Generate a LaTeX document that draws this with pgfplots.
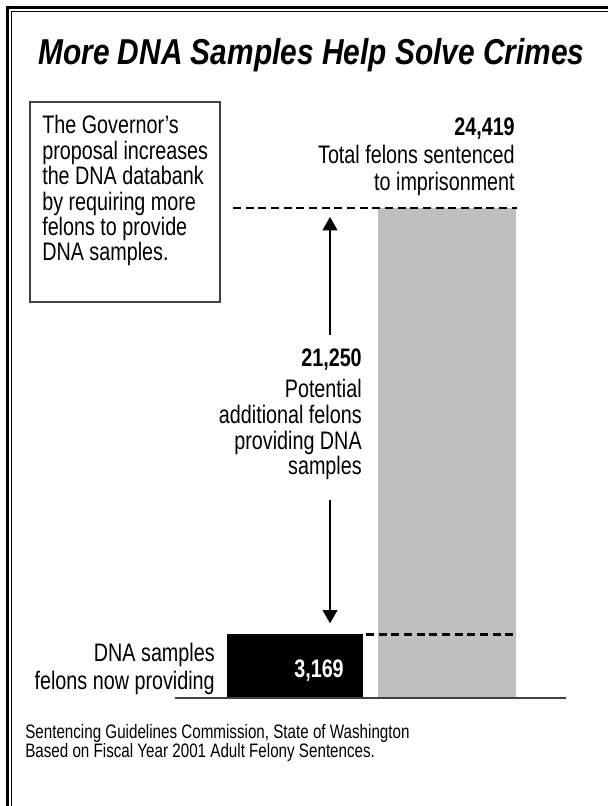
\documentclass[border=0pt]{standalone}
\usepackage{pgfplots}
\pgfplotsset{compat=1.18}
\usetikzlibrary{arrows.meta}
\usepackage{fontspec}
\setmainfont{Liberation Sans}[FakeStretch=0.78]
\newfontfamily\titlefont{Liberation Sans}[FakeStretch=0.83]
\definecolor{barGray}{HTML}{BFBFBF}
\definecolor{ruleGray}{HTML}{404040}

\begin{document}
\begin{tikzpicture}
\begin{axis}[
  at={(0,0)}, anchor=south west,
  scale only axis, width=456pt, height=604.5pt,
  xmin=0, xmax=608, ymin=-5382, ymax=34785,
  hide axis, clip=false]

% felons now providing samples / total felons sentenced to imprisonment
\addplot[ybar, bar width=136, bar shift=0pt, fill=black, draw=none]
  coordinates {(295,3169)};
\addplot[ybar, bar width=138, bar shift=0pt, fill=barGray, draw=none]
  coordinates {(447,24419)};

% reference lines at the two totals
\draw[black, line width=2pt, dash pattern=on 6pt off 3.5pt]
  (axis cs:233,24419) -- (axis cs:517,24419);
\draw[black, line width=2pt, dash pattern=on 6pt off 3.5pt]
  (axis cs:366,3169) -- (axis cs:517,3169);

% the gap between them: 21,250 additional felons
\draw[line width=1.5pt, -{Triangle[width=11pt,length=10pt]}]
  (axis cs:330,18090) -- (axis cs:330,23970);
\draw[line width=1.5pt, -{Triangle[width=11pt,length=10pt]}]
  (axis cs:330,9867) -- (axis cs:330,3720);

% baseline
\draw[line width=1pt, ruleGray] (axis cs:175,0) -- (axis cs:566,0);
\end{axis}

\begin{scope}[shift={(0,604.5pt)}, x=0.75pt, y=-0.75pt]
  % frame
  \draw[line width=2.25pt] (6,7.5) -- (608,7.5);
  \draw[line width=2.25pt] (7.5,6) -- (7.5,806);
  \draw[line width=0.8pt] (11.5,11.5) -- (608,11.5);
  \draw[line width=0.8pt] (11.5,11.5) -- (11.5,806);

  % title
  \node[anchor=base west, inner sep=0] at (38,65)
    {\titlefont\fontsize{27}{32}\selectfont\bfseries\itshape More DNA Samples Help Solve Crimes};

  % text box
  \draw[line width=0.9pt, ruleGray] (30,102) rectangle (220,302);
  \begin{scope}[every node/.style={anchor=base west, inner sep=0, font=\fontsize{19}{21}\selectfont}]
    \node at (42,134) {The Governor’s};
    \node at (42,159.4) {proposal increases};
    \node at (42,184.8) {the DNA databank};
    \node at (42,210.2) {by requiring more};
    \node at (42,235.6) {felons to provide};
    \node at (42,261) {DNA samples.};
  \end{scope}

  \begin{scope}[every node/.style={anchor=base east, inner sep=0, font=\fontsize{19}{21}\selectfont}]
    \node at (515,136) {\bfseries 24,419};
    \node at (515,164) {Total felons sentenced};
    \node at (515,191) {to imprisonment};

    \node at (362,367) {\bfseries 21,250};
    \node at (362,398) {Potential};
    \node at (362,424) {additional felons};
    \node at (362,449.5) {providing DNA};
    \node at (362,475) {samples};

    \node at (215,662) {DNA samples};
    \node at (215,690) {felons now providing};
    \node[text=white] at (344,678) {\bfseries 3,169};
  \end{scope}

  % source
  \begin{scope}[every node/.style={anchor=base west, inner sep=0, font=\fontsize{14.6}{16}\selectfont}]
    \node at (25,739) {Sentencing Guidelines Commission, State of Washington};
    \node at (25,758) {Based on Fiscal Year 2001 Adult Felony Sentences.};
  \end{scope}
\end{scope}

\pgfresetboundingbox
\path[use as bounding box] (0,0) rectangle (456pt,604.5pt);
\end{tikzpicture}
\end{document}
